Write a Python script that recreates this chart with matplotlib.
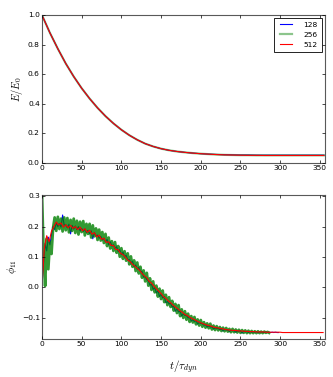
import matplotlib
matplotlib.use("Agg")
import matplotlib.pyplot as plt
import numpy as np

plt.style.use("classic")
plt.rcParams["font.family"] = ["DejaVu Sans"]
plt.rcParams["mathtext.fontset"] = "cm"

# energy ratio E/E0, sampled every 10 t_dyn (plus the last point at 355)
t_energy = np.append(np.arange(0, 360, 10), 355)
energy_128 = [1.000, 0.880, 0.772, 0.672, 0.584, 0.505, 0.435, 0.372, 0.316, 0.267,
              0.224, 0.187, 0.156, 0.130, 0.111, 0.096, 0.085, 0.077, 0.071, 0.066,
              0.062, 0.059, 0.057, 0.055, 0.054, 0.053, 0.053, 0.052, 0.052, 0.052,
              0.052, 0.052, 0.052, 0.052, 0.052, 0.052, 0.052]
energy_256 = [1.000, 0.880, 0.772, 0.672, 0.584, 0.505, 0.435, 0.372, 0.316, 0.267,
              0.224, 0.187, 0.156, 0.130, 0.111, 0.096, 0.085, 0.077, 0.071, 0.066,
              0.062, 0.059, 0.056, 0.054, 0.053, 0.052, 0.052, 0.051, 0.051, 0.051,
              0.051, 0.051, 0.051, 0.051, 0.051, 0.051, 0.051]
energy_512 = [1.000, 0.880, 0.772, 0.672, 0.584, 0.505, 0.435, 0.372, 0.316, 0.267,
              0.224, 0.187, 0.156, 0.130, 0.111, 0.096, 0.085, 0.077, 0.071, 0.066,
              0.062, 0.059, 0.056, 0.054, 0.053, 0.052, 0.051, 0.051, 0.050, 0.050,
              0.050, 0.050, 0.050, 0.050, 0.050, 0.050, 0.050]

# phi_11 for the three resolutions
t_phi_128 = np.arange(0, 300, 2)
phi_128 = [0.000, 0.080, 0.145, 0.120, 0.165,
           0.140, 0.175, 0.200, 0.190, 0.212,
           0.200, 0.210, 0.198, 0.238, 0.204,
           0.206, 0.196, 0.208, 0.176, 0.204,
           0.192, 0.202, 0.190, 0.200, 0.186,
           0.194, 0.184, 0.192, 0.180, 0.188,
           0.176, 0.186, 0.160, 0.180, 0.170,
           0.172, 0.162, 0.168, 0.156, 0.162,
           0.150, 0.158, 0.140, 0.150, 0.136,
           0.140, 0.128, 0.134, 0.118, 0.124,
           0.108, 0.116, 0.100, 0.106, 0.090,
           0.092, 0.080, 0.086, 0.068, 0.074,
           0.060, 0.066, 0.052, 0.052, 0.034,
           0.036, 0.026, 0.022, 0.008, 0.010,
           -0.006, 0.000, -0.018, -0.010, -0.030,
           -0.022, -0.034, -0.030, -0.050, -0.046,
           -0.054, -0.052, -0.064, -0.062, -0.078,
           -0.070, -0.080, -0.078, -0.094, -0.086,
           -0.092, -0.092, -0.100, -0.098, -0.110,
           -0.106, -0.112, -0.108, -0.120, -0.115,
           -0.118, -0.119, -0.124, -0.122, -0.130,
           -0.126, -0.130, -0.129, -0.136, -0.133,
           -0.134, -0.135, -0.138, -0.137, -0.143,
           -0.138, -0.140, -0.140, -0.145, -0.141,
           -0.142, -0.142, -0.147, -0.143, -0.144,
           -0.143, -0.150, -0.144, -0.146, -0.145,
           -0.148, -0.145, -0.147, -0.146, -0.147,
           -0.146, -0.149, -0.146, -0.147, -0.147,
           -0.148, -0.146, -0.148, -0.147, -0.148,
           -0.147, -0.148, -0.147, -0.148, -0.148]

t_phi_256 = np.arange(0, 288, 2)
phi_256 = [0.310, 0.120, 0.005, 0.160, 0.060,
           0.150, 0.110, 0.195, 0.230, 0.186,
           0.232, 0.192, 0.226, 0.184, 0.230,
           0.188, 0.228, 0.181, 0.222, 0.186,
           0.226, 0.179, 0.219, 0.174, 0.216,
           0.182, 0.218, 0.171, 0.209, 0.176,
           0.209, 0.164, 0.204, 0.168, 0.194,
           0.156, 0.190, 0.154, 0.182, 0.146,
           0.176, 0.136, 0.164, 0.128, 0.152,
           0.120, 0.149, 0.114, 0.136, 0.101,
           0.129, 0.094, 0.119, 0.088, 0.112,
           0.076, 0.102, 0.068, 0.089, 0.054,
           0.082, 0.046, 0.068, 0.032, 0.056,
           0.020, 0.048, 0.006, 0.030, -0.008,
           0.020, -0.016, 0.006, -0.030, -0.004,
           -0.038, -0.010, -0.048, -0.024, -0.058,
           -0.032, -0.064, -0.044, -0.076, -0.054,
           -0.084, -0.058, -0.094, -0.072, -0.100,
           -0.078, -0.106, -0.086, -0.113, -0.094,
           -0.115, -0.097, -0.121, -0.105, -0.125,
           -0.107, -0.129, -0.114, -0.132, -0.118,
           -0.134, -0.119, -0.138, -0.125, -0.140,
           -0.127, -0.141, -0.130, -0.143, -0.132,
           -0.144, -0.133, -0.145, -0.136, -0.147,
           -0.136, -0.147, -0.138, -0.148, -0.139,
           -0.149, -0.140, -0.149, -0.141, -0.150,
           -0.142, -0.150, -0.143, -0.150, -0.144,
           -0.150, -0.144, -0.150, -0.145, -0.150,
           -0.145, -0.149, -0.146, -0.149]

t_phi_512 = np.arange(0, 357, 3)
phi_512 = [0.000, 0.130, 0.170, 0.150, 0.185,
           0.200, 0.215, 0.205, 0.212, 0.198,
           0.206, 0.196, 0.204, 0.194, 0.200,
           0.190, 0.198, 0.186, 0.193, 0.181,
           0.188, 0.175, 0.180, 0.166, 0.172,
           0.158, 0.162, 0.148, 0.150, 0.138,
           0.138, 0.125, 0.124, 0.112, 0.108,
           0.100, 0.090, 0.085, 0.076, 0.070,
           0.063, 0.056, 0.046, 0.038, 0.032,
           0.020, 0.014, 0.004, -0.004, -0.012,
           -0.020, -0.030, -0.036, -0.044, -0.050,
           -0.058, -0.064, -0.070, -0.077, -0.082,
           -0.089, -0.092, -0.098, -0.102, -0.106,
           -0.110, -0.114, -0.117, -0.120, -0.123,
           -0.125, -0.127, -0.130, -0.132, -0.133,
           -0.135, -0.136, -0.138, -0.139, -0.140,
           -0.141, -0.141, -0.142, -0.143, -0.143,
           -0.144, -0.144, -0.145, -0.145, -0.145,
           -0.146, -0.146, -0.146, -0.146, -0.147,
           -0.147, -0.147, -0.147, -0.147, -0.147,
           -0.147, -0.148, -0.148, -0.148, -0.148,
           -0.148, -0.148, -0.148, -0.148, -0.148,
           -0.148, -0.148, -0.148, -0.148, -0.148,
           -0.148, -0.148, -0.148, -0.148]

labels = ["128", "256", "512"]

fig = plt.figure(figsize=(3.33, 3.77), dpi=100, facecolor="white")
ax1 = fig.add_axes([0.126, 0.568, 0.849, 0.392])
ax2 = fig.add_axes([0.126, 0.101, 0.849, 0.382])

ax1.plot(t_energy, energy_128, color="b", lw=0.8, label=labels[0])
ax1.plot(t_energy, energy_256, color="g", lw=1.6, alpha=0.45, label=labels[1])
ax1.plot(t_energy, energy_512, color="r", lw=0.8, label=labels[2])

ax2.plot(t_phi_128, phi_128, color="b", lw=0.8)
ax2.plot(t_phi_256, phi_256, color="g", lw=2.0, alpha=0.8)
ax2.plot(t_phi_512, phi_512, color="r", lw=0.8)

ax1.set_xlim(0, 356)
ax1.set_ylim(0, 1.0)
ax2.set_xlim(0, 356)
ax2.set_ylim(-0.169, 0.304)

ax1.set_ylabel(r"$E/E_0$", fontsize=7.5, labelpad=2)
ax2.set_ylabel(r"$\phi_{11}$", fontsize=7.5, labelpad=2)
ax2.set_xlabel(r"$t/\tau_{dyn}$", fontsize=8, labelpad=8)

for ax in (ax1, ax2):
    ax.tick_params(labelsize=5.4, length=2, width=0.5, pad=1.5)
    ax.tick_params(which="minor", length=0)
    for sp in ax.spines.values():
        sp.set_edgecolor("0.35")
        sp.set_linewidth(0.8)
    ax.set_xticks(np.arange(0, 351, 50))

ax1.set_yticks(np.arange(0, 1.01, 0.2))
ax2.set_yticks([-0.1, 0.0, 0.1, 0.2, 0.3])

leg = ax1.legend(loc="upper right", fontsize=5.4, handlelength=2.2, borderpad=0.5,
                 labelspacing=0.5, handletextpad=1.2, borderaxespad=0.4)
leg.get_frame().set_linewidth(0.6)

fig.savefig("out.png", dpi=100, facecolor="white")
